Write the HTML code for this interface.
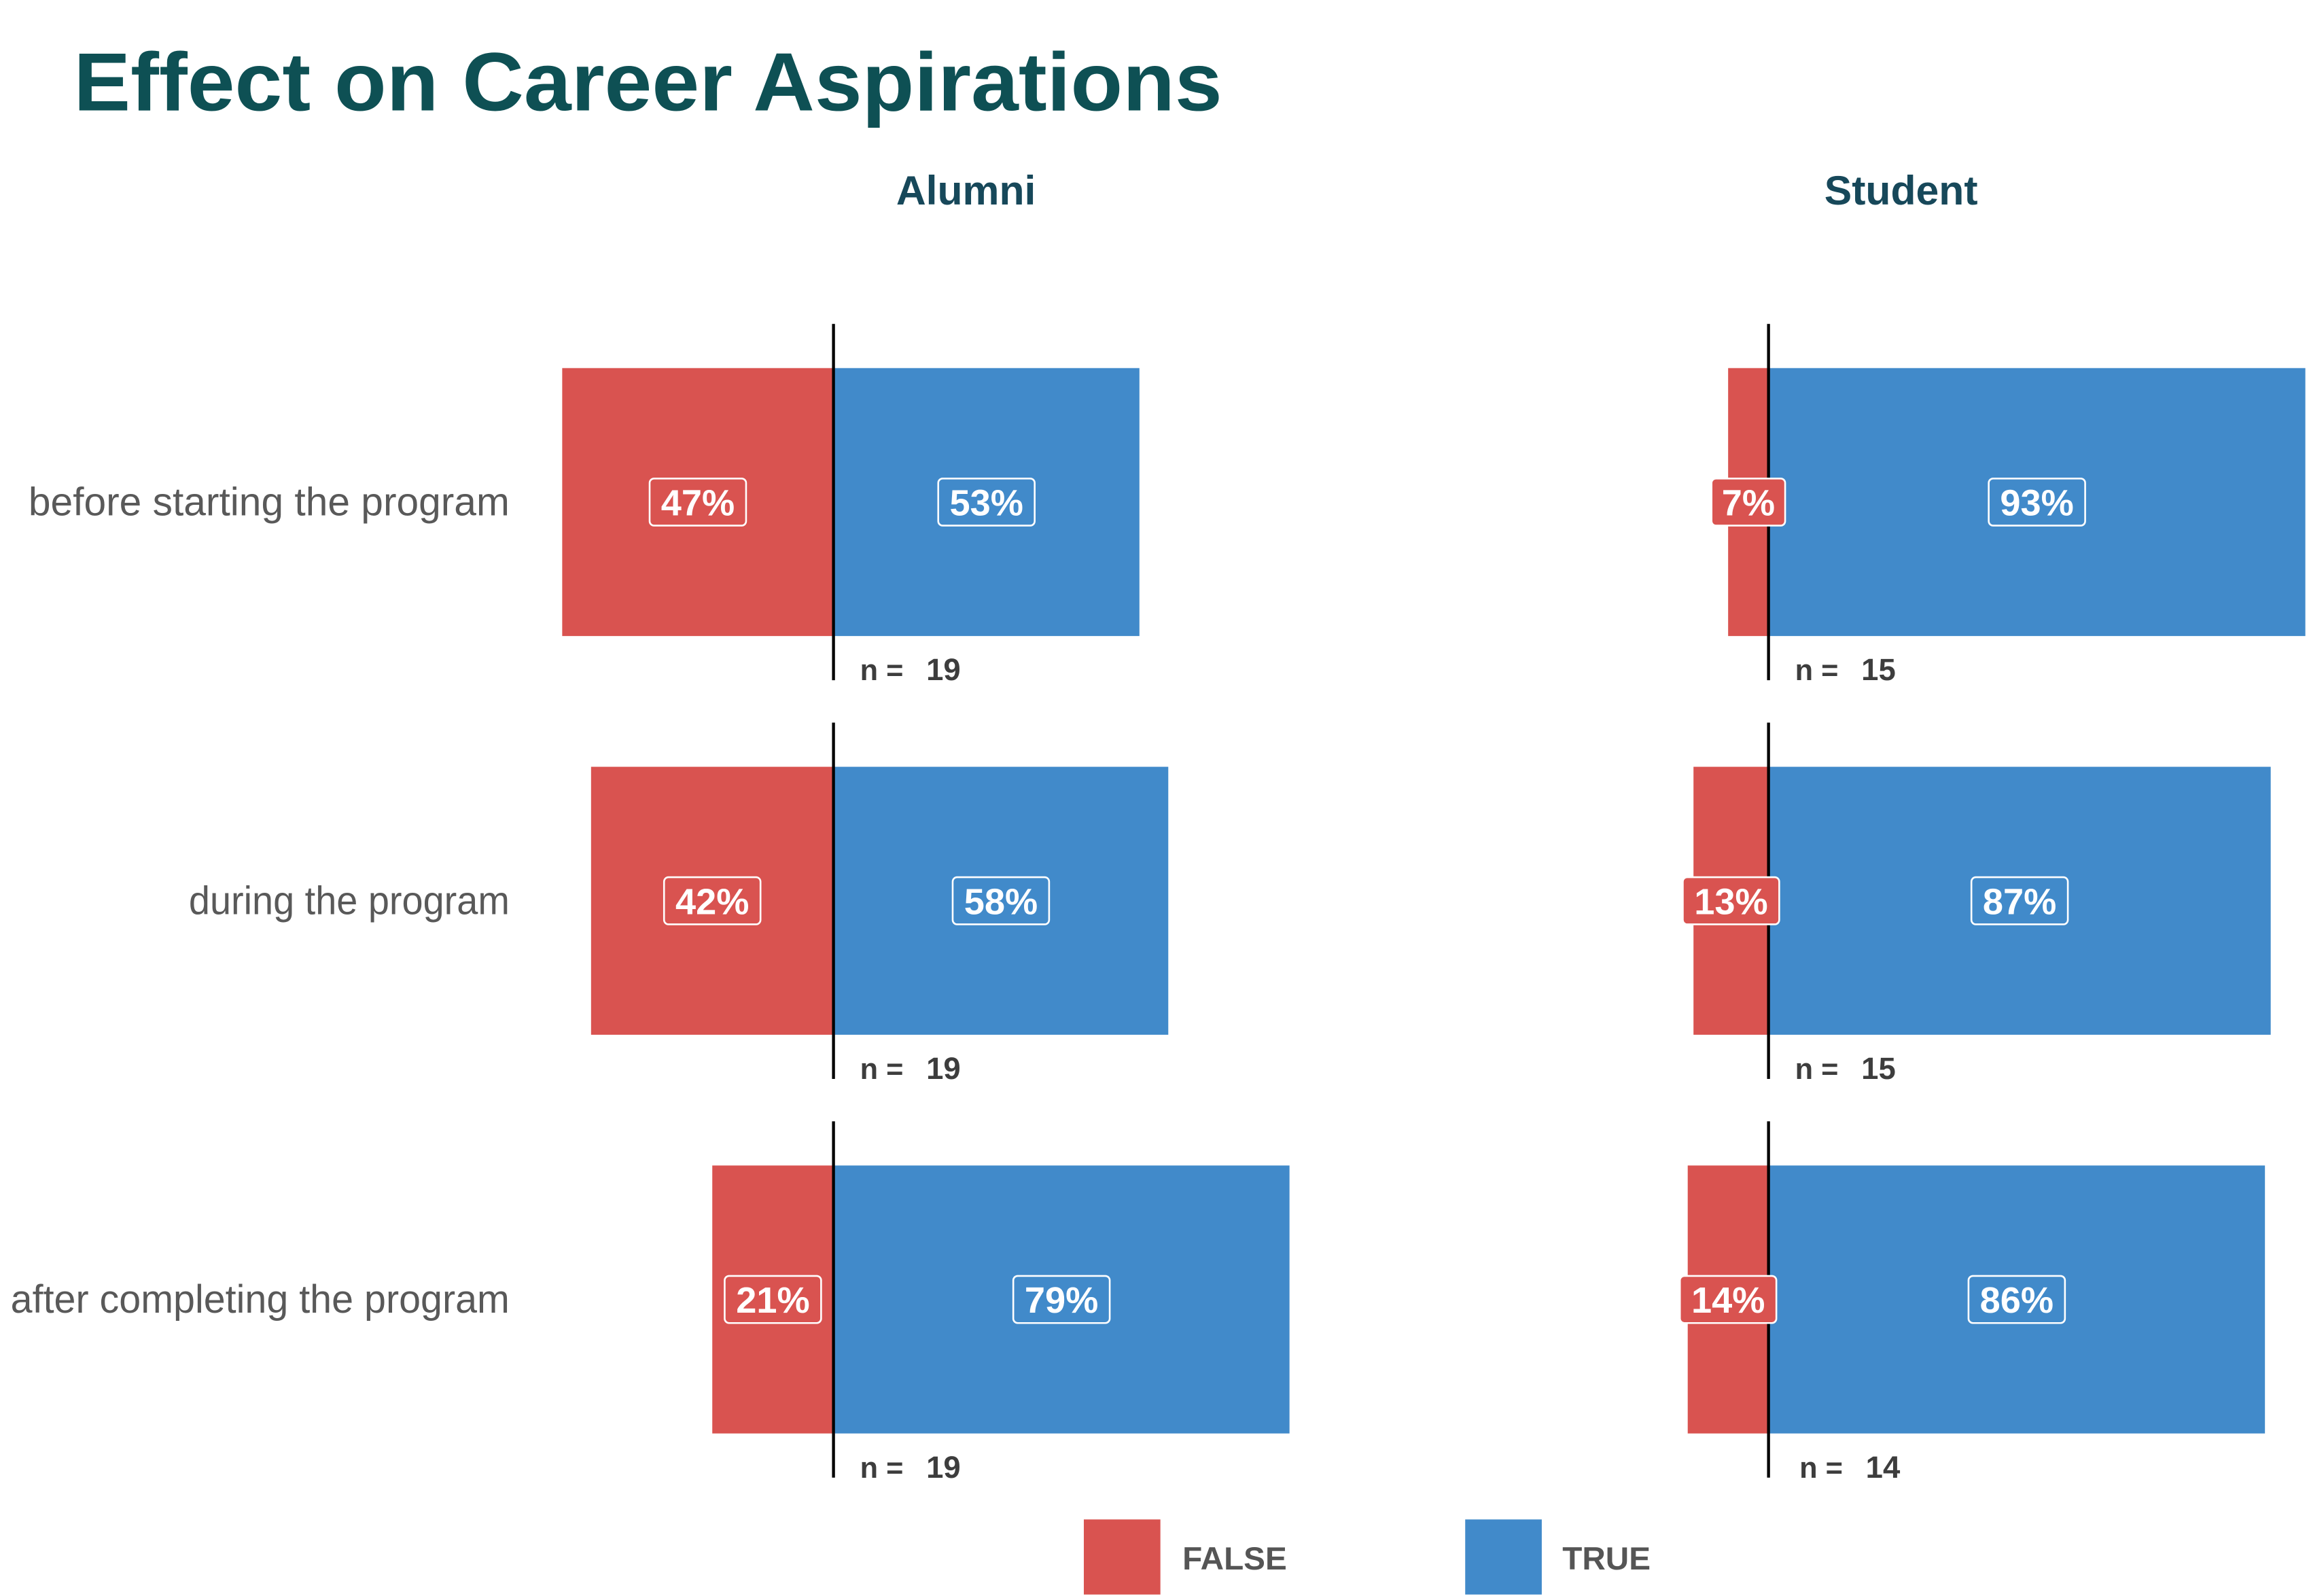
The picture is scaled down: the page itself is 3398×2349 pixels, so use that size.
<!DOCTYPE html>
<html><head><meta charset="utf-8"><style>
html,body{margin:0;padding:0;background:#fff;}
svg{display:block;font-family:"Liberation Sans","DejaVu Sans",sans-serif;}
</style></head><body>
<svg id="chart" width="3398" height="2349" viewBox="0 0 1568 1084" xmlns="http://www.w3.org/2000/svg">
<text x="50" y="75" font-size="56" font-weight="bold" fill="#0e5054" textLength="780" lengthAdjust="spacingAndGlyphs">Effect on Career Aspirations</text>
<g id="marks"></g>
<rect x="736" y="1032" width="52" height="51" fill="#D95350"/>
<text x="803" y="1066" font-size="22" font-weight="bold" fill="#555">FALSE</text>
<rect x="995" y="1032" width="52" height="51" fill="#418ACA"/>
<text x="1061" y="1066" font-size="22" font-weight="bold" fill="#555">TRUE</text>
</svg>
<script>
const categories = ["before starting the program","during the program","after completing the program"];
const panels = ["Alumni","Student"];
const alumniFalse = [47,42,21];
const alumniTrue = [53,58,79];
const studentFalse = [7,13,14];
const studentTrue = [93,87,86];
const alumniN = [19,19,19];
const studentN = [15,15,14];

const NS="http://www.w3.org/2000/svg";
const g=document.getElementById('marks');
const RED="#D95350", BLUE="#418ACA";
const zeroX=[566,1201], titleX=[656,1291];
const PX=3.92;
function xs(p,v){return zeroX[p]+v*PX;}
function rowTop(i){return 250+i*270.8;}
const BH=182;
function el(tag,attrs,txt){const e=document.createElementNS(NS,tag);for(const k in attrs)e.setAttribute(k,attrs[k]);if(txt!==undefined)e.textContent=txt;g.appendChild(e);return e;}
panels.forEach((p,pi)=>{
  const t=el('text',{x:titleX[pi],y:139,'font-size':28,'font-weight':'bold','text-anchor':'middle',fill:'#17485a'},p);
  
  
});
categories.forEach((c,i)=>{
  const y=rowTop(i), cy=y+BH/2;
  const t=el('text',{x:346,y:cy+9,'font-size':27,'text-anchor':'end',fill:'#595959',textLength:c.length*12.1,lengthAdjust:'spacingAndGlyphs'},c);
  
  
  [[alumniFalse,alumniTrue,alumniN],[studentFalse,studentTrue,studentN]].forEach((d,pi)=>{
    const f=d[0][i], tr=d[1][i], n=d[2][i];
    const fb=el('rect',{x:xs(pi,-f),y:y,width:xs(pi,0)-xs(pi,-f),height:BH,fill:RED});
    
    
    const tb=el('rect',{x:xs(pi,0),y:y,width:xs(pi,tr)-xs(pi,0),height:BH,fill:BLUE});
    
    
    const ln=el('rect',{x:zeroX[pi]-1,y:y-30,width:2,height:BH+60,fill:'#000'});
    
    
    [[f,RED,(xs(pi,-f)+xs(pi,0))/2],[tr,BLUE,(xs(pi,0)+xs(pi,tr))/2]].forEach(([v,col,cx])=>{
      const s=v+'%', w=s.length*15.5+19;
      const b=el('rect',{x:cx-w/2,y:cy-16,width:w,height:32,rx:3,fill:col,stroke:'#fff','stroke-width':1.2});
      
      
      const lt=el('text',{x:cx,y:cy+9,'font-size':25,'font-weight':'bold','text-anchor':'middle',fill:'#fff'},s);
      
      
    });
    const nx=zeroX[pi]+(pi==1&&i==2?21:18);
    const nt=el('text',{x:nx,y:y+BH+30,'font-size':20,'font-weight':'bold',fill:'#3d3d3d'},'n =');
    
    
    const nv=el('text',{x:nx+45,y:y+BH+30,'font-size':21,'font-weight':'bold',fill:'#3d3d3d'},String(n));
    
    
  });
});
</script>
</body></html>
